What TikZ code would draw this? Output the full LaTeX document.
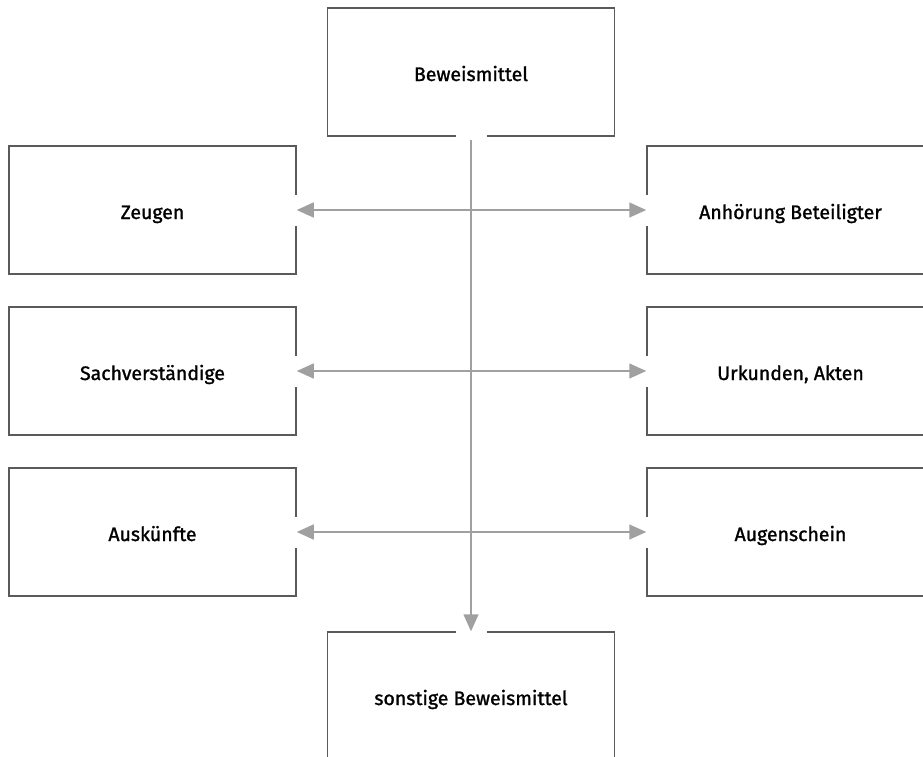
\documentclass[tikz,border=0pt]{standalone}
\usepackage{fontspec}
\setmainfont{Fira Sans}
\newfontfamily\labelfont{Fira Sans}[FakeBold=1.3]
\usetikzlibrary{arrows.meta,calc}
\definecolor{boxgray}{HTML}{5A5A5A}
\definecolor{linkgray}{HTML}{A0A0A0}
\begin{document}
\begin{tikzpicture}[x=1pt,y=-1pt,
  box/.style={draw=boxgray, line width=1.5pt, minimum width=287pt,
    minimum height=128pt, inner sep=0pt, fill=white,
    text height=20pt, text depth=2pt,
    font=\labelfont\fontsize{19.5}{23}\selectfont},
  link/.style={draw=linkgray, line width=1.5pt,
    -{Triangle[length=17pt,width=15pt]}, color=linkgray},
  dlink/.style={link, {Triangle[length=17pt,width=15pt]}-{Triangle[length=17pt,width=15pt]}},
  gapw/.style={fill=white, draw=none}]
\useasboundingbox (0,0) rectangle (923,756);
\clip (0,0) rectangle (923,756);

% boxes
\node[box] (top)   at (471,72)   {Beweismittel};
\node[box] (zeug)  at (152.5,210) {Zeugen};
\node[box] (sach)  at (152.5,371) {Sachverständige};
\node[box] (ausk)  at (152.5,532) {Auskünfte};
\node[box] (anh)   at (790.5,210) {Anhörung Beteiligter};
\node[box] (urk)   at (790.5,371) {Urkunden, Akten};
\node[box] (aug)   at (790.5,532) {Augenschein};
\node[box] (sonst) at (471,696)  {sonstige Beweismittel};

% openings in the frames where the connectors meet them
\foreach \n in {zeug,sach,ausk}
  \fill[gapw] ($(\n.east)+(-2,-15.5)$) rectangle ($(\n.east)+(2,15.5)$);
\foreach \n in {anh,urk,aug}
  \fill[gapw] ($(\n.west)+(-2,-15.5)$) rectangle ($(\n.west)+(2,15.5)$);
\fill[gapw] ($(top.south)+(-15.5,-2)$) rectangle ($(top.south)+(15.5,3)$);
\fill[gapw] ($(sonst.north)+(-15.5,-2)$) rectangle ($(sonst.north)+(15.5,2)$);

% connectors
\draw[dlink] (zeug.east) -- (anh.west);
\draw[dlink] (sach.east) -- (urk.west);
\draw[dlink] (ausk.east) -- (aug.west);
\draw[link] ($(top.south)+(0,3)$) -- (sonst.north);
\end{tikzpicture}
\end{document}
